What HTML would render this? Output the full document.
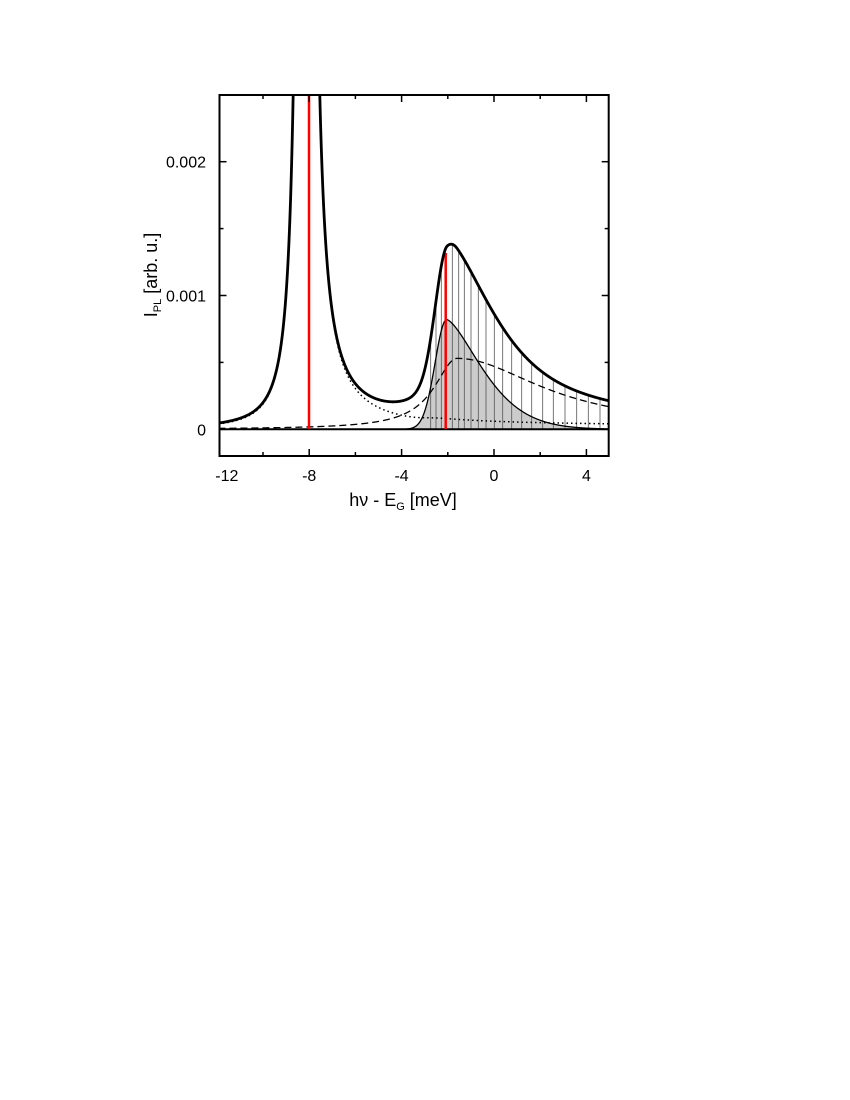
<!DOCTYPE html>
<html><head><meta charset="utf-8"><style>
body{margin:0;background:#fff;}
svg{display:block;font-family:"Liberation Sans",sans-serif;}
</style></head><body>
<svg id="s" width="850" height="1100" xmlns="http://www.w3.org/2000/svg"></svg>
<script>
const X=v=>494+23.1*v, Y=v=>429.3-133800*v;
function dash(x){const d=x+1.6;const g=d<0?1.2:4.5;return 0.53e-3/(1+(d/g)**2);}
function fil(x){const d=x+2.05;if(d<0)return 0.82e-3*Math.exp(-(d*d)/(2*0.5*0.5));return 0.82e-3*Math.exp(-Math.pow(d/2.2,1.5));}
function dotted(x){const d=x+8.1;let v;if(d<0)v=0.8e-3/(Math.pow(-d,2.24)+0.01);else v=1.0e-3/(Math.pow(d,1.6)+0.01);return v+0.025e-3/(1+Math.exp(-(x+3)/0.3));}
function tot(x){return dotted(x)+dash(x)+fil(x);}
const xmin=-11.93,xmax=4.95,yT=95,yB=456;
function path(f){let p="";for(let x=xmin;x<=xmax;x+=0.01){let y=Y(f(x));if(y<yT-3)y=yT-3;p+=(p?"L":"M")+X(x).toFixed(2)+","+y.toFixed(2);}return p;}
let s="";
s+='<defs><clipPath id="c"><rect x="219.5" y="95" width="389.2" height="361"/></clipPath></defs>';
s+='<g clip-path="url(#c)">';
let fp="M"+X(-3.6)+","+Y(0);for(let x=-3.6;x<=xmax;x+=0.02)fp+="L"+X(x).toFixed(2)+","+Y(fil(x)).toFixed(2);fp+="L"+X(xmax)+","+Y(0)+"Z";
s+='<path d="'+fp+'" fill="#cccccc"/>';
const hx=[430.7,436,441.3,452.3,458.7,464.3,471,478.3,486,494.3,502.7,511.7,521.7,531.7,542.7,553.3,565,576.7,588.3,600];
hx.forEach(px=>{const v=(px-494)/23.1;s+='<line x1="'+px+'" x2="'+px+'" y1="'+Y(0)+'" y2="'+Y(tot(v))+'" stroke="#555" stroke-width="0.8"/>';});
s+='<line x1="219" x2="609" y1="'+Y(0)+'" y2="'+Y(0)+'" stroke="#000" stroke-width="2"/>';
s+='<path d="'+path(dotted)+'" fill="none" stroke="#000" stroke-width="1.5" stroke-dasharray="1.5,3"/>';
s+='<path d="'+path(dash)+'" fill="none" stroke="#000" stroke-width="1.3" stroke-dasharray="7,4"/>';
s+='<path d="'+path(fil)+'" fill="none" stroke="#000" stroke-width="1.3"/>';
s+='<line x1="309" x2="309" y1="'+Y(0)+'" y2="95" stroke="#f00" stroke-width="2.5"/>';
s+='<line x1="445.7" x2="445.7" y1="'+Y(0)+'" y2="253" stroke="#f00" stroke-width="2.5"/>';
s+='<path d="'+path(tot)+'" fill="none" stroke="#000" stroke-width="2.8"/>';
s+='</g>';
s+='<rect x="219.5" y="95" width="389.2" height="361" fill="none" stroke="#000" stroke-width="2"/>';
for(let v=-10;v<=4;v+=2){const px=X(v),len=(v%4==0)?7:4;s+='<line x1="'+px+'" x2="'+px+'" y1="456" y2="'+(456-len)+'" stroke="#000" stroke-width="1.5"/><line x1="'+px+'" x2="'+px+'" y1="95" y2="'+(95+len)+'" stroke="#000" stroke-width="1.5"/>';}
for(let i=0;i<=4;i++){const v=i*0.0005,py=Y(v),len=(i%2==0)?7:4;s+='<line x1="219.5" x2="'+(219.5+len)+'" y1="'+py+'" y2="'+py+'" stroke="#000" stroke-width="1.5"/><line x1="608.7" x2="'+(608.7-len)+'" y1="'+py+'" y2="'+py+'" stroke="#000" stroke-width="1.5"/>';}
[[-12,"-12"],[-8,"-8"],[-4,"-4"],[0,"0"],[4,"4"]].forEach(([v,t])=>{s+='<text x="'+(X(v)+(v==-12?10:0))+'" y="481" font-size="16" text-anchor="middle">'+t+'</text>';});
[[0,"0"],[0.001,"0.001"],[0.002,"0.002"]].forEach(([v,t])=>{s+='<text x="206" y="'+(Y(v)+6)+'" font-size="16" text-anchor="end">'+t+'</text>';});
s+='<text x="403" y="506" font-size="18" text-anchor="middle">hν - E<tspan font-size="11" dy="4">G</tspan><tspan dy="-4"> [meV]</tspan></text>';
s+='<text transform="translate(157,275) rotate(-90)" font-size="18" text-anchor="middle">I<tspan font-size="11" dy="4">PL</tspan><tspan dy="-4"> [arb. u.]</tspan></text>';
document.getElementById("s").innerHTML=s;
</script>
</body></html>
